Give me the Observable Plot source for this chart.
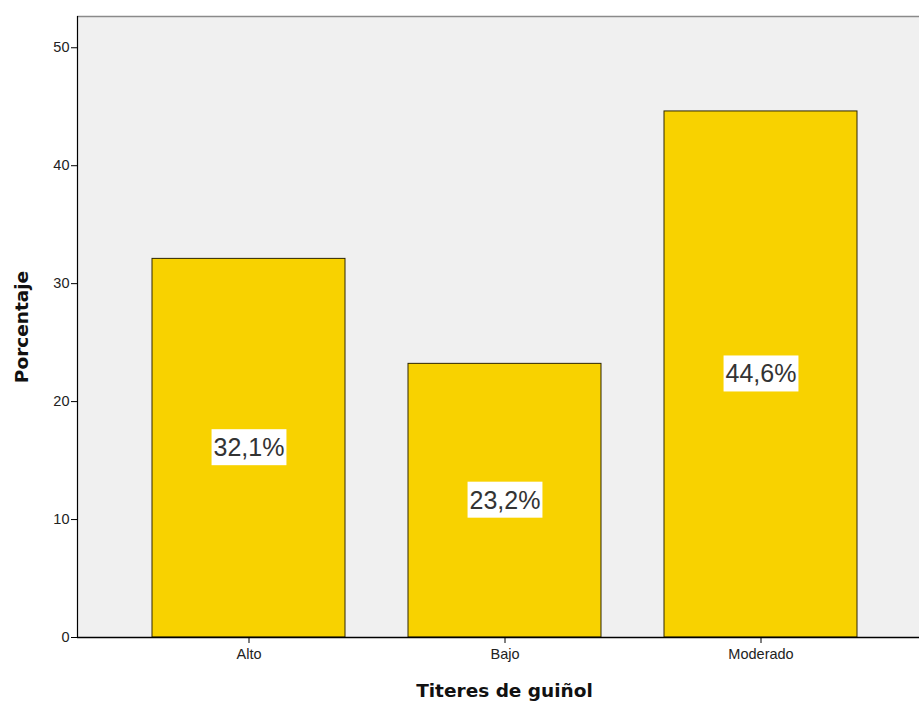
<!DOCTYPE html>
<html>
<head>
<meta charset="utf-8">
<script src="https://cdn.jsdelivr.net/npm/d3@7"></script>
<script src="https://cdn.jsdelivr.net/npm/@observablehq/plot@0.6"></script>
<style>
  html, body { margin: 0; padding: 0; background: #fff; }
</style>
</head>
<body>
<div id="chart"></div>
<script>
const categories = ["Alto", "Bajo", "Moderado"];
const percentages = [32.1, 23.2, 44.6];
const labels = ["32,1%", "23,2%", "44,6%"];
const yTicks = [0, 10, 20, 30, 40, 50];
const yMax = 52.65;

const data = categories.map((c, i) => ({cat: c, value: percentages[i], label: labels[i]}));

const chart = Plot.plot({
  width: 919,
  height: 706,
  marginLeft: 77,
  marginRight: 0,
  marginTop: 16,
  marginBottom: 69,
  style: {fontFamily: "Arial, 'Liberation Sans', sans-serif", fontSize: "14px", background: "#fff", color: "#000"},
  x: {domain: categories, range: [151.2, 857.2], paddingInner: 0.248, paddingOuter: 0, label: null},
  y: {domain: [0, yMax], label: null},
  marks: [
    Plot.frame({fill: "#f0f0f0", stroke: null}),
    Plot.ruleY([yMax], {stroke: "#8a8a8a", strokeWidth: 1.5}),
    Plot.barY(data, {x: "cat", y: "value", fill: "#f8d200", stroke: "#2e2600", strokeWidth: 1}),
    Plot.frame({anchor: "left", stroke: "#000", strokeWidth: 1.2}),
    Plot.ruleY([0], {stroke: "#000", strokeWidth: 1.5}),
    Plot.axisY({ticks: yTicks, tickSize: 6, tickPadding: 2, label: null, fontSize: 14.5, fill: "#222", stroke: "#000"}),
    Plot.axisX({tickSize: 6, tickPadding: 5, label: null, fontSize: 14.5, fill: "#222", stroke: "#000"}),
    Plot.text(data, {x: "cat", y: d => d.value / 2, text: "label", fontSize: 25, fill: "#333"}),
    Plot.text(["Titeres de guiñol"], {frameAnchor: "bottom", textAnchor: "middle", lineAnchor: "middle", dy: 54, dx: 6, fontSize: 18.5, fontWeight: "bold", fill: "#111", fontFamily: "'DejaVu Sans', sans-serif"}),
    Plot.text(["Porcentaje"], {frameAnchor: "left", textAnchor: "middle", lineAnchor: "middle", dx: -55, rotate: -90, fontSize: 18.5, fontWeight: "bold", fill: "#111", fontFamily: "'DejaVu Sans', sans-serif"})
  ]
});

document.getElementById("chart").appendChild(chart);

// white boxes behind value labels
d3.select(chart).selectAll("text").filter(function() {
  return labels.includes(this.textContent);
}).each(function() {
  const bb = this.getBBox();
  const boxH = 36, padX = 2;
  const cy = bb.y + bb.height / 2;
  const r = d3.select(this.parentNode).insert("rect", () => this)
    .attr("x", bb.x - padX)
    .attr("y", cy - boxH / 2)
    .attr("width", bb.width + 2 * padX)
    .attr("height", boxH)
    .attr("fill", "#fff");
  const t = this.getAttribute("transform");
  if (t) r.attr("transform", t);
});
</script>
</body>
</html>
